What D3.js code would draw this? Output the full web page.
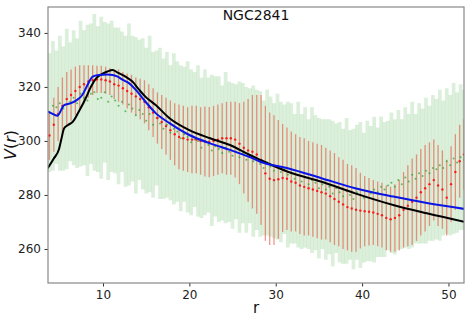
<!DOCTYPE html>
<html>
<head>
<meta charset="utf-8">
<script src="https://cdn.jsdelivr.net/npm/d3@7"></script>
<style>
  body { margin: 0; background: #fff; }
  text { font-family: "DejaVu Sans", sans-serif; }
</style>
</head>
<body>
<svg id="stage" width="471" height="322"></svg>
<script>

//GREEN points (r, V, half error)
var greenR = [3.8,4.2,4.6,5.0,5.4,5.8,6.2,6.6,7.0,7.4,
  7.8,8.2,8.6,9.0,9.4,9.8,10.2,10.6,11.0,11.4,
  11.8,12.2,12.6,13.0,13.4,13.8,14.2,14.6,15.0,15.4,
  15.8,16.2,16.6,17.0,17.4,17.8,18.2,18.6,19.0,19.4,
  19.8,20.2,20.6,21.0,21.4,21.8,22.2,22.6,23.0,23.4,
  23.8,24.2,24.6,25.0,25.4,25.8,26.2,26.6,27.0,27.4,
  27.8,28.2,28.6,29.0,29.4,29.8,30.2,30.6,31.0,31.4,
  31.8,32.2,32.6,33.0,33.4,33.8,34.2,34.6,35.0,35.4,
  35.8,36.2,36.6,37.0,37.4,37.8,38.2,38.6,39.0,39.4,
  39.8,40.2,40.6,41.0,41.4,41.8,42.2,42.6,43.0,43.4,
  43.8,44.2,44.6,45.0,45.4,45.8,46.2,46.6,47.0,47.4,
  47.8,48.2,48.6,49.0,49.4,49.8,50.2,50.6,51.0,51.4,
  51.8];
var greenV = [310.5,313,312.5,314,312,315.5,314.5,316,314,317.5,
  316,315,317.5,318,315.5,316,318,314.5,316.5,315,
  313,314.5,311,313.5,312,309.5,311.5,310,307.5,310,
  306,308.5,306.5,304.5,306,303,304.5,303.5,301,302.5,
  301.5,299.5,300.5,300,297.5,299.5,298.5,296.5,298,297,
  295.5,297.5,296,294.5,296,294,295.5,293,294.5,292.5,
  293,291.5,290,292,290.5,289,290.5,288.5,289.5,287.5,
  288,286,287.5,285,286.5,284,285.5,284.5,282.5,284,
  282,283,280.5,282.5,281,279.5,281.5,280,278.5,281,
  280,279,281.5,280.5,282,281,283,282,283.5,284.5,
  283,285.5,284,286.5,285,287.5,286,288,287,289,
  288,290,289.5,291,290,292.5,291,293.5,292,294,
  293];
var greenE = [22,24,21,25,23,26,22,25,24,27,
  25,28,26,29,27,30,26,29,28,27,
  29,26,28,30,27,29,26,28,27,29,
  27,25,28,26,27,25,28,26,27,25,
  28,27,25,28,26,27,25,28,26,27,
  25,28,26,27,25,28,26,27,25,28,
  26,27,25,27,26,25,27,26,24,27,
  26,24,27,25,26,24,27,25,26,24,
  26,25,27,24,26,25,27,24,26,25,
  27,24,26,25,27,24,26,25,24,26,
  25,26,24,26,25,27,24,26,25,27,
  25,27,26,28,25,27,26,28,26,27,
  26];

//RED points
var redR = [3.8,4.3,4.8,5.3,5.8,6.3,6.8,7.3,7.8,8.3,
  8.8,9.3,9.8,10.3,10.8,11.3,11.8,12.3,12.8,13.3,
  13.8,14.3,14.8,15.3,15.8,16.3,16.8,17.3,17.8,18.3,
  18.8,19.3,19.8,20.3,20.8,21.3,21.8,22.3,22.8,23.3,
  23.8,24.3,24.8,25.3,25.8,26.3,26.8,27.3,27.8,28.3,
  28.8,29.3,29.8,30.3,30.8,31.3,31.8,32.3,32.8,33.3,
  33.8,34.3,34.8,35.3,35.8,36.3,36.8,37.3,37.8,38.3,
  38.8,39.3,39.8,40.3,40.8,41.3,41.8,42.3,42.8,43.3,
  43.8,44.3,44.8,45.3,45.8,46.3,46.8,47.3,47.8,48.3,
  48.8,49.3,49.8,50.3,50.8,51.3,51.8];
var redV = [302,306,310,313,315.5,317,318.5,320,321,322,
  322.5,322.8,322.8,322.5,322,321,320.5,319.5,318.5,317.5,
  316.5,315.5,314.5,312.5,310.5,308.5,307,305.5,304,302.5,
  301.5,301,300.5,300.5,300.5,300,299.8,299.6,300,300.5,
  301,301,301,300.5,299,297.5,296.5,296,295,293,
  288,286,285.5,285.8,286.3,286,285,284.5,283.5,283,
  282.5,282,281.5,281,280.5,279.5,278.5,277.5,276.5,275.5,
  275,274.5,274.2,274,273.8,273.5,273,272.5,271.5,271,
  271.5,272.5,274.5,276,277.5,279,281,282.5,284,285.5,
  283.5,282,279,284,288.5,292.5,295];
var redE = [9,10,10,10.5,10,9.5,9,8,7,6,
  5.5,5,5,5,5,5.5,6,6,6.5,7,
  7,7.5,8,8.5,9,9.5,10,10.5,11,11.5,
  12,12,12,12.5,12.5,12.5,13,13,13,13,
  13,13.5,13.5,14,15,17,19,21,22,24,
  25,24.5,24,22,20,19,18.5,18,18,18,
  17.5,17.5,17.5,17.5,17,17,17,16.5,16.5,16,
  16,15.5,14,13,12.5,12,12,12,12,12,
  12.5,13,14,15,16,16,16,16,15.5,15,
  15,14.5,14,14,14,13.5,13];

//BLACK curve
var blackR = [3.6,4.3,4.9,5.2,5.5,6.0,6.5,7.2,8.0,8.6,9.2,9.9,10.5,11.1,11.7,12.6,13.4,14.2,14.9,16.1,17.7,20,22.4,24.7,27,28.2,31.4,35.3,39.2,43.6,47.5,51.9];
var blackV = [289.9,293.5,296.9,301,304.7,306,307.1,310.9,315.8,320.1,323.2,324.8,325.7,326.3,325.3,323.8,322,318.9,316.4,313.3,308.4,304,301,298.5,294.8,293,288.6,284.9,280.6,276.3,273.2,270];

//BLUE curve
var blueR = [3.6,4.0,4.7,5.5,6.3,7.0,7.6,8.2,8.8,9.5,10.5,11.1,11.7,12.3,13.0,13.8,14.9,16.1,17.7,20,22.4,24.7,27,28.2,31.4,35.3,39.2,43.6,47.5,51.9];
var blueV = [310.9,310.3,309.3,313.3,314,315.2,317,320.7,323.8,324.4,324.6,324.4,323.8,322.6,321.4,318.9,314.6,310.3,306.6,302.2,299.1,296.7,294,292.3,289.9,286.2,282.5,279.4,277,274.8];

//Ticks
var xTicks = [10, 20, 30, 40, 50];
var yTicks = [260, 280, 300, 320, 340];

var margin = {left: 48, right: 7, top: 7, bottom: 39};
var W = 471, H = 322;
var pw = W - margin.left - margin.right;
var ph = H - margin.top - margin.bottom;

var svg = d3.select("#stage");

var x = d3.scaleLinear().domain([3.63, 51.8]).range([0, pw]);
var y = d3.scaleLinear().domain([247.4, 349.6]).range([ph, 0]);

svg.append("defs").append("clipPath").attr("id", "clip")
  .append("rect").attr("width", pw).attr("height", ph);

var g = svg.append("g").attr("transform", "translate(" + margin.left + "," + margin.top + ")");
var plot = g.append("g").attr("clip-path", "url(#clip)");

function zipPoints(a, b, c) {
  return a.map(function(d, i) { return {r: d, v: b[i], e: c[i]}; });
}

var green = zipPoints(greenR, greenV, greenE);
var red = zipPoints(redR, redV, redE);

//green error bars
plot.selectAll(".gbar").data(green).enter().append("line")
  .attr("x1", function(d){ return x(d.r); })
  .attr("x2", function(d){ return x(d.r); })
  .attr("y1", function(d){ return y(d.v - d.e); })
  .attr("y2", function(d){ return y(d.v + d.e); })
  .style("stroke", "#2ca02c")
  .style("stroke-width", 3.7)
  .style("stroke-opacity", 0.17);

//red error bars
plot.selectAll(".rbar").data(red).enter().append("line")
  .attr("x1", function(d){ return x(d.r); })
  .attr("x2", function(d){ return x(d.r); })
  .attr("y1", function(d){ return y(d.v - d.e); })
  .attr("y2", function(d){ return y(d.v + d.e); })
  .style("stroke", "#e8503a")
  .style("stroke-width", 1.3)
  .style("stroke-opacity", 0.6);

//green points
plot.selectAll(".gdot").data(green).enter().append("circle")
  .attr("cx", function(d){ return x(d.r); })
  .attr("cy", function(d){ return y(d.v); })
  .attr("r", 1)
  .style("fill", "#2ca02c")
  .style("opacity", 0.7);

//red points
plot.selectAll(".rdot").data(red).enter().append("circle")
  .attr("cx", function(d){ return x(d.r); })
  .attr("cy", function(d){ return y(d.v); })
  .attr("r", 1.2)
  .style("fill", "#ff1a1a");

var line = d3.line()
  .x(function(d){ return x(d[0]); })
  .y(function(d){ return y(d[1]); })
  .curve(d3.curveMonotoneX);

plot.append("path").datum(d3.zip(blackR, blackV))
  .attr("d", line)
  .style("fill", "none").style("stroke", "#000").style("stroke-width", 2);

plot.append("path").datum(d3.zip(blueR, blueV))
  .attr("d", line)
  .style("fill", "none").style("stroke", "#0a14e6").style("stroke-width", 2);

//axes
var xAxis = g.append("g").attr("transform", "translate(0," + ph + ")")
  .call(d3.axisBottom(x).tickValues(xTicks).tickSize(3.5).tickPadding(3.5));
var yAxis = g.append("g")
  .call(d3.axisLeft(y).tickValues(yTicks).tickSize(3.5).tickPadding(3.5));

[xAxis, yAxis].forEach(function(a){
  a.select(".domain").remove();
  a.selectAll("line").style("stroke", "#333");
  a.selectAll("text").style("font-size", "12px").style("fill", "#222")
    .style("font-family", "DejaVu Sans, sans-serif");
});

//frame
g.append("rect").attr("width", pw).attr("height", ph)
  .style("fill", "none").style("stroke", "#888").style("stroke-width", 1.2);

//title and labels
g.append("text").attr("x", pw/2).attr("y", 13).attr("text-anchor", "middle")
  .style("font-size", "14px").style("fill", "#111").text("NGC2841");

svg.append("text").attr("x", margin.left + pw/2).attr("y", 313).attr("text-anchor", "middle")
  .style("font-size", "15px").style("fill", "#111").text("r");

svg.append("text").attr("transform", "translate(16," + (margin.top + ph/2) + ") rotate(-90)")
  .attr("text-anchor", "middle")
  .style("font-size", "16px").style("fill", "#111")
  .html('<tspan font-style="italic">V</tspan>(<tspan font-style="italic">r</tspan>)');

</script>
</body>
</html>
